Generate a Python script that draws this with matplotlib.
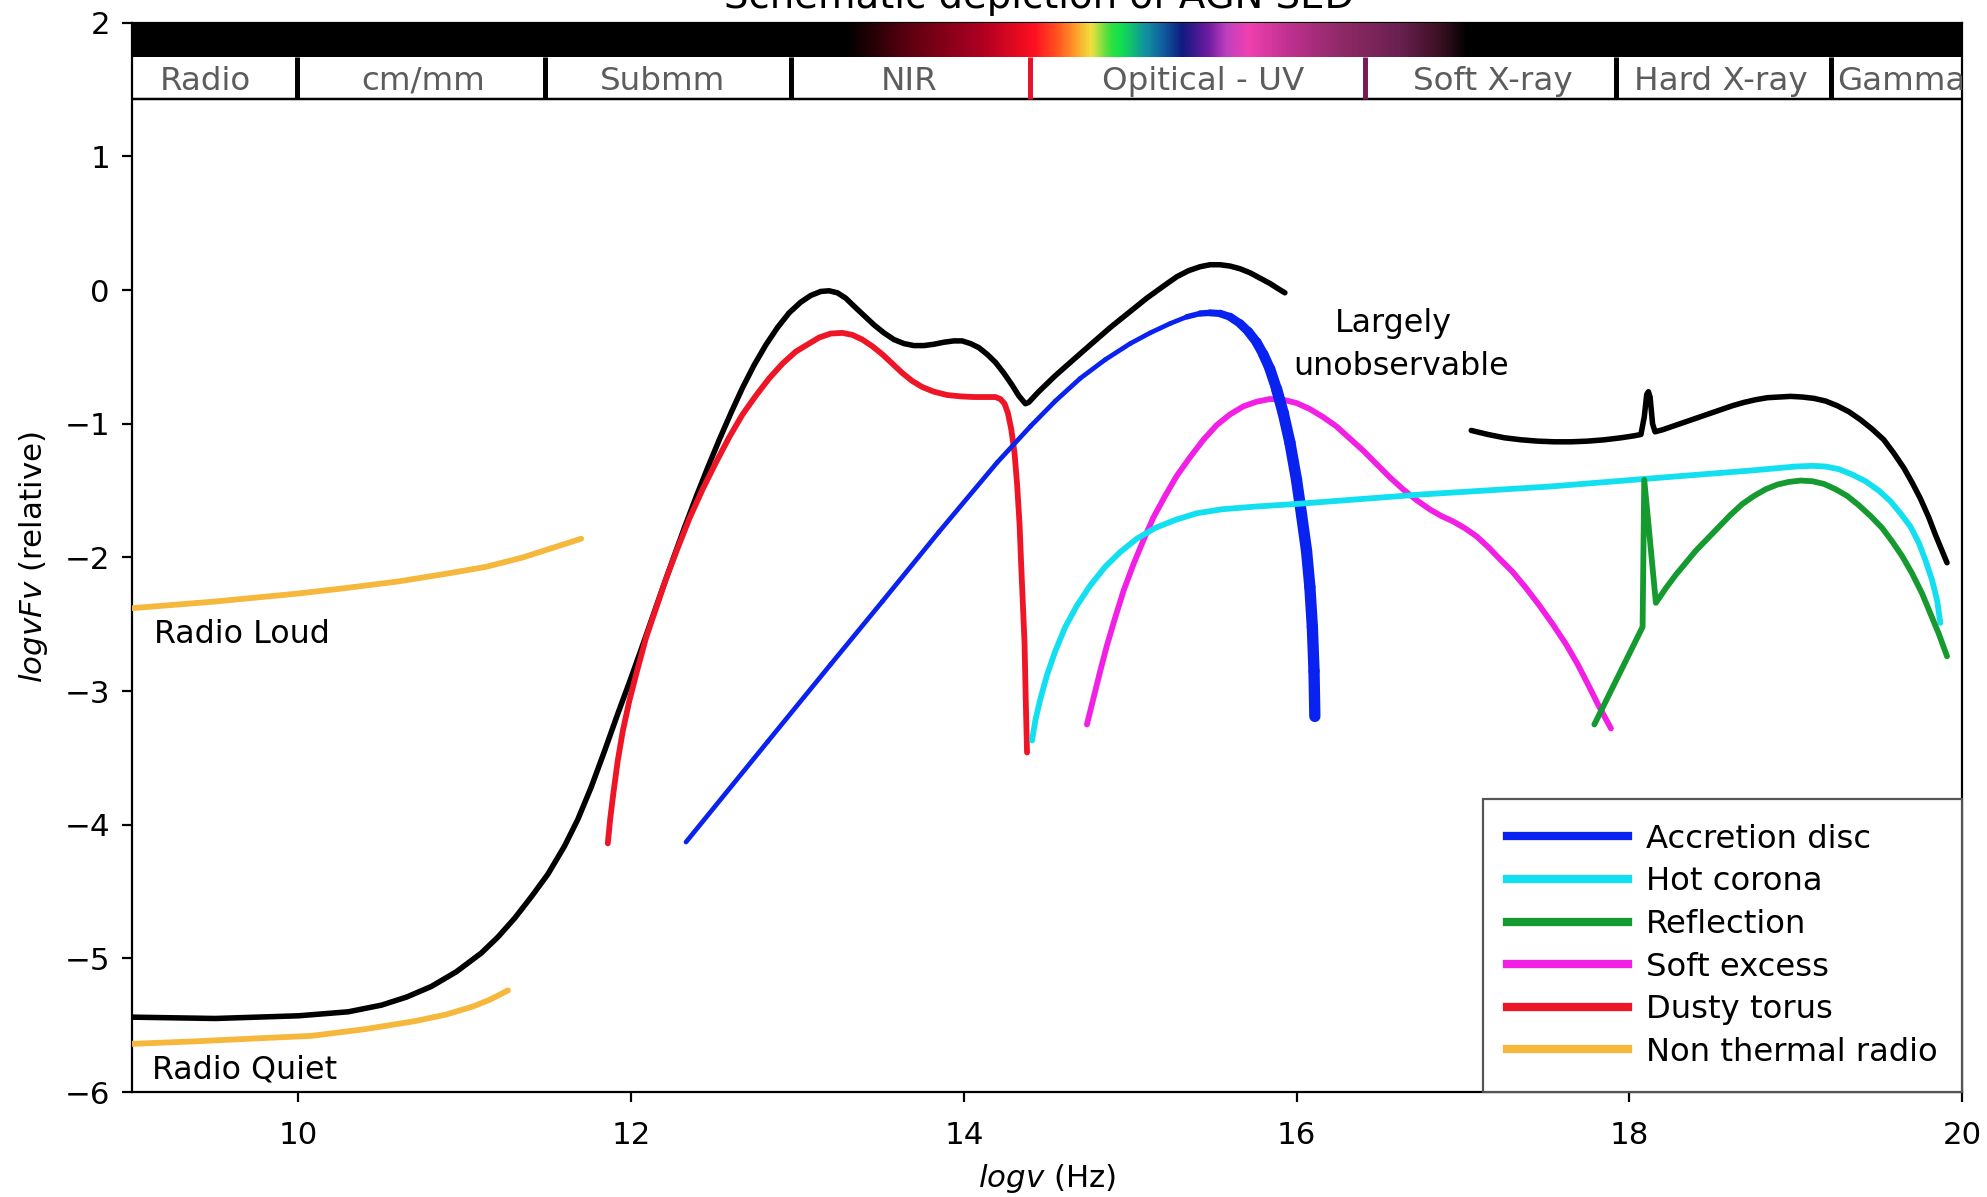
import numpy as np
import matplotlib
matplotlib.use("Agg")
import matplotlib.pyplot as plt
from matplotlib.collections import LineCollection
from matplotlib.colors import LinearSegmentedColormap
from matplotlib.patches import Rectangle
from matplotlib.lines import Line2D

# ---------------- data (log nu, log nuFnu) ----------------
total_opt_x = [9.0, 9.5, 10.0, 10.3, 10.5, 10.65, 10.8, 10.95, 11.1, 11.2, 11.3, 11.4, 11.5, 11.6,
               11.68, 11.76, 11.84, 11.92, 12.0, 12.08, 12.17, 12.25, 12.32, 12.39, 12.46, 12.53,
               12.60, 12.67, 12.74, 12.81, 12.88, 12.95, 13.02, 13.08, 13.14, 13.19, 13.24, 13.29,
               13.34, 13.40, 13.46, 13.52, 13.58, 13.64, 13.70, 13.76, 13.82, 13.88, 13.94, 13.99,
               14.04, 14.09, 14.14, 14.19, 14.24, 14.29, 14.33, 14.37, 14.39, 14.45, 14.55, 14.65,
               14.76, 14.88, 15.0, 15.1, 15.2, 15.28, 15.35, 15.42, 15.48, 15.54, 15.60, 15.66,
               15.72, 15.78, 15.84, 15.89, 15.93]
total_opt_y = [-5.44, -5.45, -5.43, -5.40, -5.35, -5.29, -5.21, -5.10, -4.96, -4.84, -4.70, -4.54,
               -4.37, -4.16, -3.96, -3.72, -3.45, -3.17, -2.90, -2.62, -2.30, -2.02, -1.78, -1.55,
               -1.33, -1.12, -0.92, -0.73, -0.56, -0.41, -0.28, -0.17, -0.09, -0.04, -0.01, -0.005,
               -0.02, -0.06, -0.12, -0.19, -0.26, -0.32, -0.37, -0.40, -0.415, -0.415, -0.405,
               -0.39, -0.38, -0.38, -0.40, -0.43, -0.48, -0.54, -0.62, -0.71, -0.79, -0.85, -0.84,
               -0.76, -0.64, -0.53, -0.41, -0.28, -0.16, -0.06, 0.03, 0.10, 0.145, 0.175, 0.19,
               0.19, 0.18, 0.16, 0.13, 0.09, 0.05, 0.01, -0.02]

total_x_x = [17.05, 17.15, 17.25, 17.35, 17.45, 17.55, 17.65, 17.75, 17.85, 17.95, 18.03, 18.07,
             18.09, 18.105, 18.115, 18.125, 18.14, 18.155, 18.20, 18.27, 18.34, 18.41, 18.48,
             18.55, 18.62, 18.69, 18.76, 18.83, 18.90, 18.97, 19.04, 19.11, 19.18, 19.25, 19.32,
             19.39, 19.46, 19.53, 19.59, 19.65, 19.70, 19.75, 19.80, 19.84, 19.88, 19.91]
total_x_y = [-1.05, -1.08, -1.105, -1.12, -1.13, -1.135, -1.135, -1.13, -1.12, -1.105, -1.09,
             -1.08, -0.95, -0.78, -0.76, -0.80, -1.0, -1.06, -1.045, -1.015, -0.985, -0.955,
             -0.925, -0.895, -0.865, -0.84, -0.82, -0.805, -0.80, -0.795, -0.80, -0.81, -0.83,
             -0.865, -0.91, -0.97, -1.04, -1.12, -1.22, -1.33, -1.44, -1.56, -1.70, -1.83,
             -1.95, -2.04]

disc_x = [12.33, 12.82, 13.20, 13.51, 13.85, 14.20, 14.40, 14.55, 14.70, 14.85, 15.0, 15.12,
          15.24, 15.34, 15.42, 15.48, 15.54, 15.60, 15.66, 15.71, 15.76, 15.80, 15.84, 15.88,
          15.92, 15.96, 16.00, 16.03, 16.06, 16.08, 16.095, 16.105, 16.11]
disc_y = [-4.13, -3.38, -2.80, -2.33, -1.81, -1.29, -1.02, -0.83, -0.66, -0.52, -0.40, -0.32,
          -0.25, -0.20, -0.175, -0.17, -0.175, -0.20, -0.25, -0.31, -0.39, -0.48, -0.59, -0.74,
          -0.92, -1.14, -1.42, -1.68, -1.95, -2.22, -2.52, -2.85, -3.19]

corona_x = [14.41, 14.43, 14.46, 14.50, 14.55, 14.61, 14.68, 14.76, 14.85, 14.94, 15.04, 15.15,
            15.27, 15.40, 15.55, 15.75, 16.0, 16.74, 17.52, 18.12, 18.73, 19.0, 19.10, 19.18,
            19.26, 19.34, 19.42, 19.50, 19.57, 19.63, 19.69, 19.74, 19.78, 19.82, 19.85, 19.87]
corona_y = [-3.37, -3.22, -3.06, -2.88, -2.70, -2.52, -2.36, -2.21, -2.07, -1.96, -1.86, -1.78,
            -1.72, -1.67, -1.64, -1.62, -1.60, -1.53, -1.47, -1.41, -1.35, -1.32, -1.315, -1.32,
            -1.34, -1.38, -1.43, -1.50, -1.58, -1.67, -1.77, -1.89, -2.02, -2.17, -2.32, -2.49]

reflection_x = [17.79, 18.08, 18.09, 18.16, 18.22, 18.28, 18.34, 18.40, 18.47, 18.54, 18.61,
                18.68, 18.75, 18.82, 18.89, 18.96, 19.03, 19.10, 19.17, 19.24, 19.31, 19.38,
                19.45, 19.52, 19.58, 19.64, 19.70, 19.76, 19.81, 19.86, 19.91]
reflection_y = [-3.25, -2.52, -1.42, -2.34, -2.23, -2.13, -2.04, -1.95, -1.86, -1.77, -1.68,
                -1.60, -1.54, -1.49, -1.455, -1.435, -1.425, -1.43, -1.45, -1.49, -1.54, -1.61,
                -1.69, -1.78, -1.88, -1.99, -2.12, -2.27, -2.42, -2.57, -2.74]

soft_x = [14.74, 14.78, 14.82, 14.86, 14.91, 14.96, 15.02, 15.08, 15.14, 15.21, 15.28, 15.36,
          15.44, 15.52, 15.60, 15.68, 15.76, 15.84, 15.92, 16.0, 16.08, 16.16, 16.24, 16.32,
          16.40, 16.48, 16.56, 16.64, 16.72, 16.80, 16.87, 16.94, 17.01, 17.08, 17.15, 17.22,
          17.30, 17.38, 17.46, 17.54, 17.62, 17.69, 17.76, 17.82, 17.89]
soft_y = [-3.25, -3.05, -2.85, -2.66, -2.45, -2.25, -2.05, -1.87, -1.70, -1.54, -1.39, -1.25,
          -1.12, -1.01, -0.93, -0.87, -0.835, -0.815, -0.82, -0.845, -0.89, -0.95, -1.02, -1.11,
          -1.20, -1.30, -1.40, -1.49, -1.57, -1.64, -1.69, -1.73, -1.78, -1.84, -1.92, -2.01,
          -2.11, -2.23, -2.36, -2.50, -2.65, -2.80, -2.97, -3.12, -3.28]

torus_x = [11.86, 11.875, 11.895, 11.92, 11.95, 11.99, 12.04, 12.09, 12.15, 12.21, 12.28, 12.35,
           12.43, 12.51, 12.59, 12.67, 12.75, 12.83, 12.91, 12.99, 13.07, 13.13, 13.20, 13.27,
           13.33, 13.39, 13.45, 13.51, 13.57, 13.63, 13.69, 13.75, 13.82, 13.90, 13.98, 14.06,
           14.14, 14.19, 14.22, 14.245, 14.265, 14.285, 14.305, 14.32, 14.335, 14.345, 14.355,
           14.365, 14.372, 14.38]
torus_y = [-4.14, -3.95, -3.75, -3.52, -3.30, -3.07, -2.83, -2.60, -2.38, -2.16, -1.93, -1.71,
           -1.49, -1.29, -1.10, -0.93, -0.79, -0.66, -0.55, -0.46, -0.40, -0.355, -0.325, -0.32,
           -0.335, -0.37, -0.42, -0.48, -0.55, -0.62, -0.68, -0.725, -0.76, -0.785, -0.795,
           -0.80, -0.80, -0.80, -0.815, -0.85, -0.92, -1.04, -1.22, -1.45, -1.75, -2.06, -2.35,
           -2.64, -3.05, -3.46]

radio_loud_x = [9.0, 9.5, 10.0, 10.28, 10.6, 10.9, 11.13, 11.35, 11.55, 11.70]
radio_loud_y = [-2.38, -2.33, -2.27, -2.23, -2.18, -2.12, -2.07, -2.00, -1.92, -1.86]
radio_quiet_x = [9.0, 9.4, 9.73, 10.08, 10.4, 10.7, 10.89, 11.05, 11.15, 11.26]
radio_quiet_y = [-5.64, -5.62, -5.60, -5.58, -5.53, -5.47, -5.42, -5.36, -5.31, -5.24]

band_labels = ["Radio", "cm/mm", "Submm", "NIR", "Opitical - UV", "Soft X-ray", "Hard X-ray", "Gamma"]
band_centers = [9.44, 10.75, 12.19, 13.67, 15.44, 17.18, 18.55, 19.25]
band_edges = [9.99, 11.48, 12.96, 14.40, 16.41, 17.92, 19.21]
band_edge_colors = ["black", "black", "black", "#e8112a", "#7a1a55", "black", "black"]

spec_pos = [13.29, 13.65, 14.11, 14.42, 14.57, 14.66, 14.76, 14.88, 14.94, 15.09, 15.19,
            15.31, 15.46, 15.58, 15.71, 15.95, 16.26, 16.62, 16.87, 17.03]
spec_col = ["#000000", "#5a0010", "#b00022", "#ff1020", "#ff5a20", "#ff9a2a", "#f0e040",
            "#30e040", "#10e050", "#1090a0", "#1060a0", "#101a80", "#6a1aa0", "#c040c0",
            "#f040b0", "#c03090", "#902a68", "#6a2050", "#3a1020", "#000000"]

legend_labels = ["Accretion disc", "Hot corona", "Reflection", "Soft excess", "Dusty torus",
                 "Non thermal radio"]

C_BLUE, C_CYAN, C_GREEN = "#0a22f0", "#12dff0", "#149a2e"
C_MAG, C_RED, C_ORANGE = "#f21fe5", "#ee1526", "#f5b83c"
legend_colors = [C_BLUE, C_CYAN, C_GREEN, C_MAG, C_RED, C_ORANGE]

# ---------------- figure ----------------
DPI = 198.7
fig = plt.figure(figsize=(10, 6.025), dpi=DPI)
ax = fig.add_axes([0.06643, 0.08772, 0.92099, 0.89307])
ax.set_xlim(9, 20)
ax.set_ylim(-6, 2)

LW = 2.1
common = dict(solid_joinstyle="round", solid_capstyle="round")
ax.plot(total_opt_x, total_opt_y, color="black", lw=2.0, zorder=5, **common)
ax.plot(total_x_x, total_x_y, color="black", lw=2.0, zorder=5, **common)
ax.plot(torus_x, torus_y, color=C_RED, lw=LW, zorder=6, **common)
ax.plot(soft_x, soft_y, color=C_MAG, lw=LW, zorder=6, **common)

# accretion disc with thickening high-energy tail
dx = np.array(disc_x)
dy = np.array(disc_y)
pts = np.column_stack([dx, dy]).reshape(-1, 1, 2)
segs = np.concatenate([pts[:-1], pts[1:]], axis=1)
mid = 0.5 * (dx[:-1] + dx[1:])
widths = 1.7 + 2.4 * np.clip((mid - 15.3) / 0.6, 0, 1)
lc = LineCollection(segs, colors=C_BLUE, linewidths=widths, capstyle="round",
                    joinstyle="round", zorder=7)
ax.add_collection(lc)

ax.plot(corona_x, corona_y, color=C_CYAN, lw=LW, zorder=8, **common)
ax.plot(reflection_x, reflection_y, color=C_GREEN, lw=LW, zorder=9, **common)
ax.plot(radio_loud_x, radio_loud_y, color=C_ORANGE, lw=LW, zorder=6, **common)
ax.plot(radio_quiet_x, radio_quiet_y, color=C_ORANGE, lw=LW, zorder=6, **common)

# ---------------- spectral band on top ----------------
ax.add_patch(Rectangle((9, 1.745), 11, 0.255, fc="black", ec="none", zorder=10))
span = spec_pos[-1] - spec_pos[0]
cmap = LinearSegmentedColormap.from_list(
    "spec", [((p - spec_pos[0]) / span, c) for p, c in zip(spec_pos, spec_col)])
grad = np.linspace(0, 1, 800).reshape(1, -1)
ax.imshow(grad, extent=[spec_pos[0], spec_pos[-1], 1.745, 2.0], aspect="auto", cmap=cmap,
          interpolation="bilinear", zorder=11)
ax.set_xlim(9, 20)
ax.set_ylim(-6, 2)
ax.axhline(1.43, color="black", lw=0.9, zorder=12)
for xe, ce in zip(band_edges, band_edge_colors):
    ax.plot([xe, xe], [1.43, 1.745], color=ce, lw=1.8, solid_capstyle="butt", zorder=12)
for lab, cx in zip(band_labels, band_centers):
    ha = "left" if lab == "Gamma" else "center"
    ax.text(cx, 1.565, lab, ha=ha, va="center", fontsize=11.8, color="#5c5c5c",
            clip_on=True, zorder=13)

# ---------------- annotations ----------------
ax.text(9.13, -2.64, "Radio Loud", fontsize=11.5, ha="left", va="baseline")
ax.text(9.12, -5.90, "Radio Quiet", fontsize=11.5, ha="left", va="baseline")
ax.text(16.58, -0.31, "Largely", fontsize=11.5, ha="center", va="baseline")
ax.text(16.63, -0.635, "unobservable", fontsize=11.5, ha="center", va="baseline")

fig.text(0.5229, 1 - 8 / 1197, "Schematic depiction of AGN SED", ha="center",
         va="baseline", fontsize=14)

# ---------------- axes styling ----------------
ax.set_xticks([10, 12, 14, 16, 18, 20])
ax.set_yticks([-6, -5, -4, -3, -2, -1, 0, 1, 2])
ax.tick_params(labelsize=11.2, length=3.5, width=0.8)
ax.tick_params(axis="x", pad=7.0)
ax.tick_params(axis="y", pad=4.5)
ax.set_xlabel(r"$logv$ (Hz)", fontsize=11.2)
ax.set_ylabel(r"$logvFv$ (relative)", fontsize=11.2)
ax.xaxis.set_label_coords(0.5, -0.065)
ax.yaxis.set_label_coords(-0.045, 0.5)

handles = [Line2D([0], [0], color=c, lw=3.0) for c in legend_colors]
leg = ax.legend(handles, legend_labels, loc="lower right", borderaxespad=0.0,
                fontsize=11.7, handlelength=3.75, handletextpad=0.55, labelspacing=0.36,
                borderpad=0.75, fancybox=False, framealpha=1.0, edgecolor="#555555")
leg.get_frame().set_linewidth(0.8)
leg.set_zorder(20)

fig.savefig("out.png", dpi=DPI)
